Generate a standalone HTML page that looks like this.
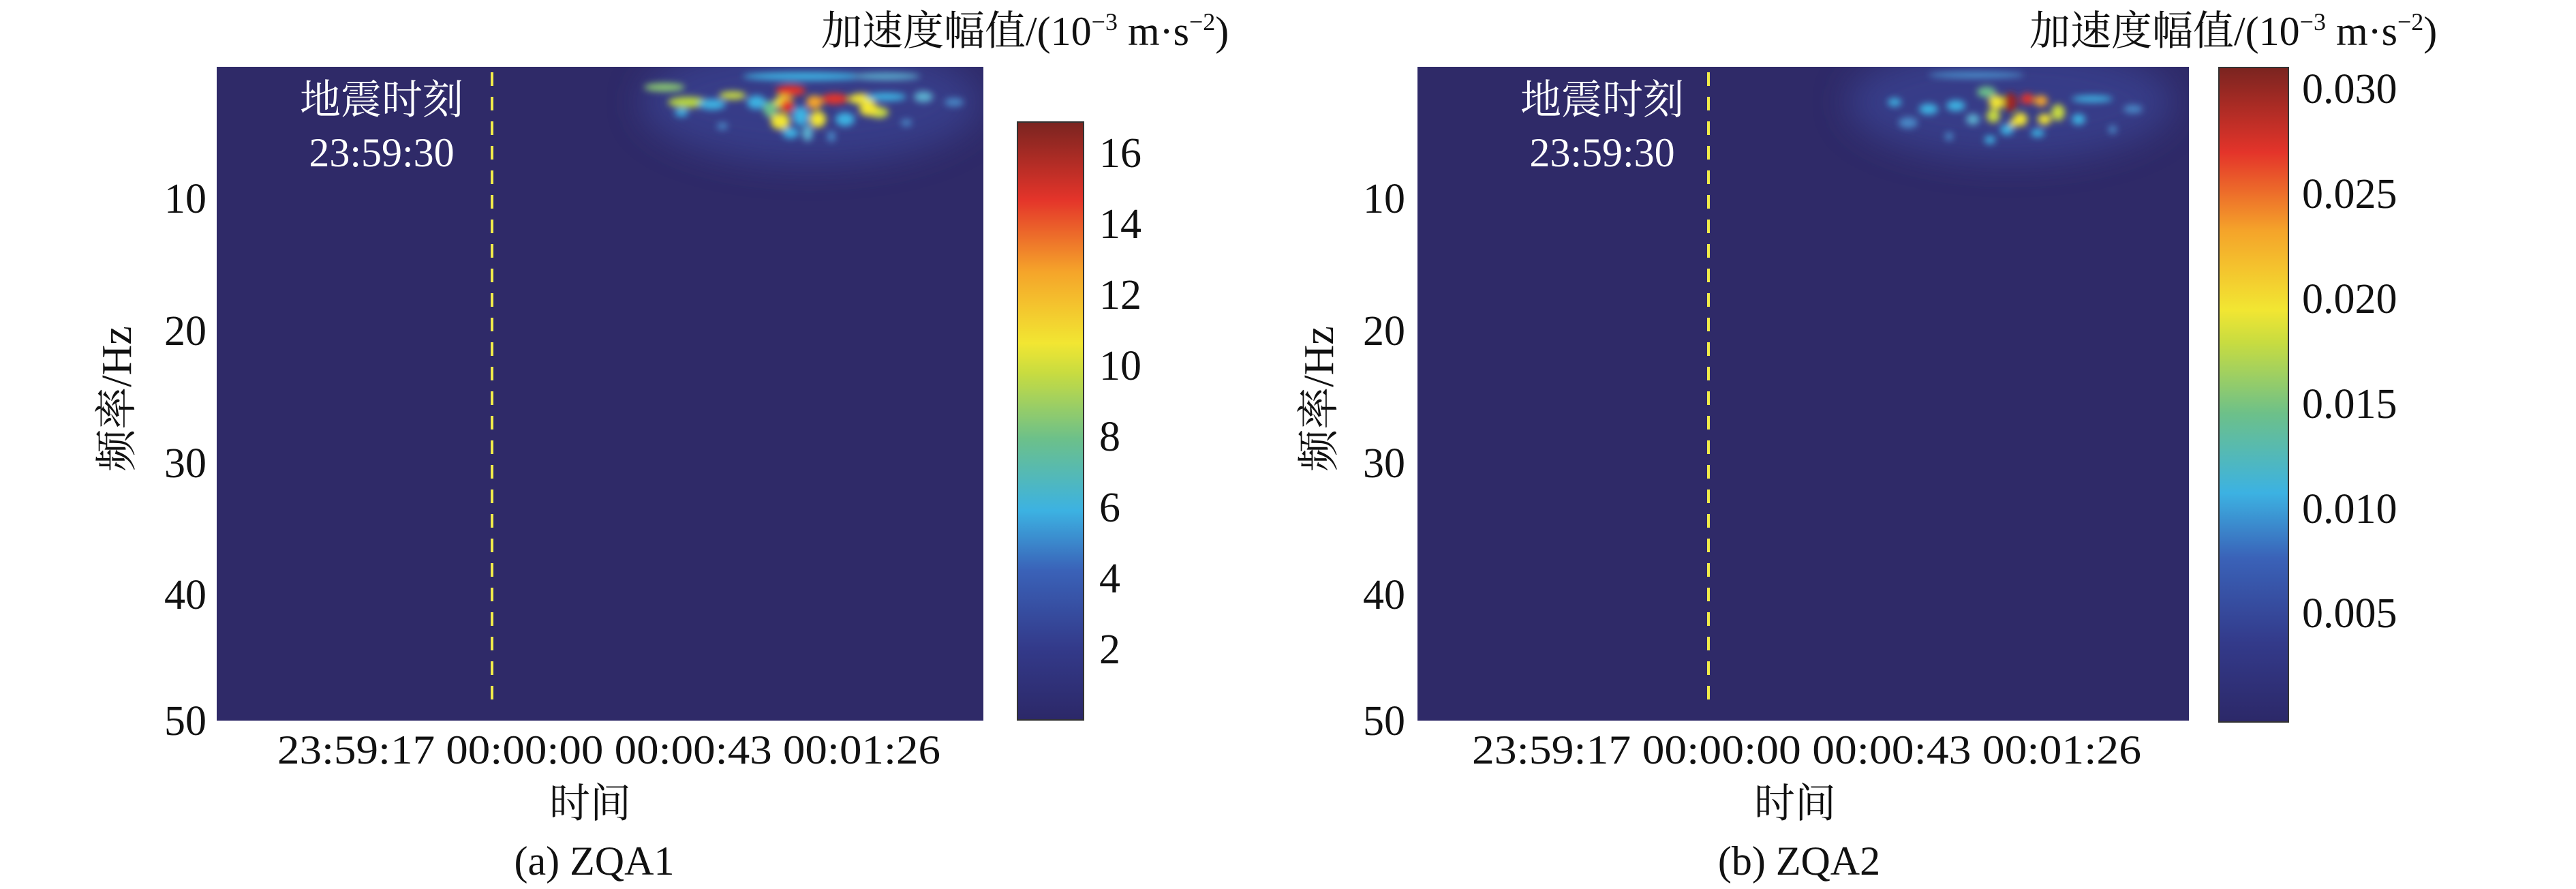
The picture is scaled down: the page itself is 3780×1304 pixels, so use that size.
<!DOCTYPE html>
<html><head><meta charset="utf-8"><style>
html,body{margin:0;padding:0;background:#fff;}
svg{display:block;}
text{font-family:"Liberation Serif","Noto Serif CJK SC",serif;fill:#111;}
</style></head><body>
<svg width="3780" height="1304" viewBox="0 0 3780 1304" xmlns="http://www.w3.org/2000/svg">
<defs>
<linearGradient id="cb" x1="0" y1="1" x2="0" y2="0">
<stop offset="0" stop-color="#2c2868"/>
<stop offset="0.12" stop-color="#333a8a"/>
<stop offset="0.25" stop-color="#3a62b8"/>
<stop offset="0.35" stop-color="#3cb2e2"/>
<stop offset="0.47" stop-color="#6cc08a"/>
<stop offset="0.58" stop-color="#c8dc40"/>
<stop offset="0.63" stop-color="#f2e632"/>
<stop offset="0.75" stop-color="#f5a42a"/>
<stop offset="0.87" stop-color="#e4342a"/>
<stop offset="1" stop-color="#7a2420"/>
</linearGradient>
<filter id="bl" x="-50%" y="-100%" width="200%" height="300%"><feGaussianBlur stdDeviation="5"/></filter>
<filter id="bl2" x="-50%" y="-100%" width="200%" height="300%"><feGaussianBlur stdDeviation="25"/></filter>
<clipPath id="ca"><rect x="318" y="98" width="1125" height="959"/></clipPath>
<clipPath id="cbp"><rect x="2080" y="98" width="1132" height="959"/></clipPath>
</defs>

<!-- Panel A -->
<rect x="318" y="98" width="1125" height="959" fill="#2f2a68"/>
<g clip-path="url(#ca)">
<ellipse cx="1190" cy="150" rx="250" ry="90" fill="#3a4496" opacity="0.7" filter="url(#bl2)"/>
<g filter="url(#bl)">
<ellipse cx="1180" cy="112" rx="90" ry="6" fill="#3cb2e2"/>
<ellipse cx="1300" cy="112" rx="50" ry="5" fill="#5bb0d0"/>
<ellipse cx="975" cy="128" rx="30" ry="6" fill="#8ccc70"/>
<ellipse cx="1010" cy="150" rx="30" ry="8" fill="#b8d840"/>
<ellipse cx="1045" cy="153" rx="20" ry="8" fill="#3cb2e2"/>
<ellipse cx="1075" cy="140" rx="20" ry="6" fill="#c8dc40"/>
<ellipse cx="1110" cy="150" rx="14" ry="10" fill="#3cb2e2"/>
<ellipse cx="1160" cy="133" rx="22" ry="8" fill="#e4342a"/>
<ellipse cx="1150" cy="150" rx="14" ry="10" fill="#f2e632"/>
<ellipse cx="1155" cy="155" rx="10" ry="10" fill="#e4342a"/>
<ellipse cx="1145" cy="178" rx="14" ry="12" fill="#f2e632"/>
<ellipse cx="1175" cy="170" rx="12" ry="14" fill="#3cb2e2"/>
<ellipse cx="1195" cy="150" rx="12" ry="10" fill="#f5a42a"/>
<ellipse cx="1200" cy="175" rx="12" ry="12" fill="#f2e632"/>
<ellipse cx="1225" cy="145" rx="20" ry="8" fill="#e4342a"/>
<ellipse cx="1265" cy="145" rx="20" ry="8" fill="#f2e632"/>
<ellipse cx="1240" cy="175" rx="14" ry="10" fill="#3cb2e2"/>
<ellipse cx="1290" cy="165" rx="14" ry="8" fill="#c8dc40"/>
<ellipse cx="1275" cy="160" rx="14" ry="10" fill="#f2e632"/>
<ellipse cx="1300" cy="142" rx="30" ry="6" fill="#3cb2e2"/>
<ellipse cx="1355" cy="142" rx="14" ry="8" fill="#5bb0d0"/>
<ellipse cx="1160" cy="195" rx="12" ry="8" fill="#3cb2e2"/>
<ellipse cx="1130" cy="160" rx="10" ry="12" fill="#6cc08a"/>
<ellipse cx="1185" cy="195" rx="8" ry="12" fill="#5bb0d0"/>
<ellipse cx="1000" cy="165" rx="10" ry="6" fill="#3cb2e2"/>
<ellipse cx="1400" cy="150" rx="14" ry="6" fill="#4a8ac8"/>
<ellipse cx="1060" cy="185" rx="8" ry="5" fill="#4a8ac8"/>
<ellipse cx="1330" cy="180" rx="8" ry="5" fill="#4a8ac8"/>
<ellipse cx="1220" cy="200" rx="6" ry="8" fill="#4a8ac8"/>
</g>
</g>
<line x1="722" y1="106" x2="722" y2="1036" stroke="#f2ec4a" stroke-width="4" stroke-dasharray="20,16"/>
<text x="560" y="167" font-size="60" text-anchor="middle" style="fill:#fff">地震时刻</text>
<text x="560" y="244" font-size="60" text-anchor="middle" style="fill:#fff">23:59:30</text>
<g font-size="62" text-anchor="end">
<text x="303" y="312">10</text>
<text x="303" y="506">20</text>
<text x="303" y="700">30</text>
<text x="303" y="893">40</text>
<text x="303" y="1078">50</text>
</g>
<text transform="translate(192,585) rotate(-90)" font-size="62" text-anchor="middle">频率/Hz</text>
<text x="407" y="1120" font-size="60" textLength="973" lengthAdjust="spacingAndGlyphs">23:59:17 00:00:00 00:00:43 00:01:26</text>
<text x="866" y="1199" font-size="60" text-anchor="middle">时间</text>
<text x="872" y="1283" font-size="60" text-anchor="middle">(a) ZQA1</text>
<rect x="1493" y="179" width="97" height="877" fill="url(#cb)" stroke="#333" stroke-width="2"/>
<g font-size="62">
<text x="1613" y="245">16</text>
<text x="1613" y="349">14</text>
<text x="1613" y="453">12</text>
<text x="1613" y="557">10</text>
<text x="1613" y="661">8</text>
<text x="1613" y="765">6</text>
<text x="1613" y="869">4</text>
<text x="1613" y="973">2</text>
</g>
<text x="1205" y="66" font-size="60">加速度幅值/(10<tspan font-size="36" dy="-22">−3</tspan><tspan dy="22"> m·s</tspan><tspan font-size="36" dy="-22">−2</tspan><tspan dy="22">)</tspan></text>

<!-- Panel B -->
<rect x="2080" y="98" width="1132" height="959" fill="#2f2a68"/>
<g clip-path="url(#cbp)">
<ellipse cx="2950" cy="150" rx="240" ry="85" fill="#3a4496" opacity="0.7" filter="url(#bl2)"/>
<g filter="url(#bl)">
<ellipse cx="2900" cy="110" rx="70" ry="5" fill="#4a8ac8"/>
<ellipse cx="2780" cy="150" rx="10" ry="6" fill="#3cb2e2"/>
<ellipse cx="2830" cy="160" rx="14" ry="8" fill="#3cb2e2"/>
<ellipse cx="2870" cy="155" rx="14" ry="8" fill="#3cb2e2"/>
<ellipse cx="2895" cy="175" rx="10" ry="8" fill="#5bb0d0"/>
<ellipse cx="2915" cy="135" rx="14" ry="8" fill="#6cc08a"/>
<ellipse cx="2930" cy="150" rx="12" ry="10" fill="#f2e632"/>
<ellipse cx="2925" cy="170" rx="10" ry="10" fill="#c8dc40"/>
<ellipse cx="2950" cy="150" rx="10" ry="14" fill="#a02820"/>
<ellipse cx="2975" cy="145" rx="10" ry="8" fill="#e4342a"/>
<ellipse cx="2995" cy="148" rx="10" ry="8" fill="#f5a42a"/>
<ellipse cx="2965" cy="175" rx="10" ry="10" fill="#f2e632"/>
<ellipse cx="3000" cy="175" rx="10" ry="8" fill="#f2e632"/>
<ellipse cx="3020" cy="165" rx="10" ry="12" fill="#c8dc40"/>
<ellipse cx="2945" cy="190" rx="10" ry="8" fill="#3cb2e2"/>
<ellipse cx="2955" cy="180" rx="6" ry="6" fill="#f2e632"/>
<ellipse cx="3050" cy="175" rx="10" ry="8" fill="#3cb2e2"/>
<ellipse cx="3070" cy="145" rx="30" ry="5" fill="#3cb2e2"/>
<ellipse cx="2990" cy="195" rx="10" ry="6" fill="#3cb2e2"/>
<ellipse cx="2920" cy="205" rx="8" ry="6" fill="#3cb2e2"/>
<ellipse cx="3130" cy="160" rx="14" ry="6" fill="#4a8ac8"/>
<ellipse cx="2800" cy="180" rx="14" ry="8" fill="#4a8ac8"/>
<ellipse cx="2860" cy="200" rx="6" ry="6" fill="#4a8ac8"/>
<ellipse cx="3100" cy="190" rx="6" ry="6" fill="#4a8ac8"/>
</g>
</g>
<line x1="2507" y1="106" x2="2507" y2="1036" stroke="#f2ec4a" stroke-width="4" stroke-dasharray="20,16"/>
<text x="2351" y="167" font-size="60" text-anchor="middle" style="fill:#fff">地震时刻</text>
<text x="2351" y="244" font-size="60" text-anchor="middle" style="fill:#fff">23:59:30</text>
<g font-size="62" text-anchor="end">
<text x="2062" y="312">10</text>
<text x="2062" y="506">20</text>
<text x="2062" y="700">30</text>
<text x="2062" y="893">40</text>
<text x="2062" y="1078">50</text>
</g>
<text transform="translate(1956,585) rotate(-90)" font-size="62" text-anchor="middle">频率/Hz</text>
<text x="2160" y="1120" font-size="60" textLength="982" lengthAdjust="spacingAndGlyphs">23:59:17 00:00:00 00:00:43 00:01:26</text>
<text x="2634" y="1199" font-size="60" text-anchor="middle">时间</text>
<text x="2640" y="1283" font-size="60" text-anchor="middle">(b) ZQA2</text>
<rect x="3256" y="99" width="102" height="960" fill="url(#cb)" stroke="#333" stroke-width="2"/>
<g font-size="62">
<text x="3378" y="151">0.030</text>
<text x="3378" y="305">0.025</text>
<text x="3378" y="459">0.020</text>
<text x="3378" y="613">0.015</text>
<text x="3378" y="767">0.010</text>
<text x="3378" y="920">0.005</text>
</g>
<text x="2978" y="66" font-size="60">加速度幅值/(10<tspan font-size="36" dy="-22">−3</tspan><tspan dy="22"> m·s</tspan><tspan font-size="36" dy="-22">−2</tspan><tspan dy="22">)</tspan></text>
</svg>
</body></html>
